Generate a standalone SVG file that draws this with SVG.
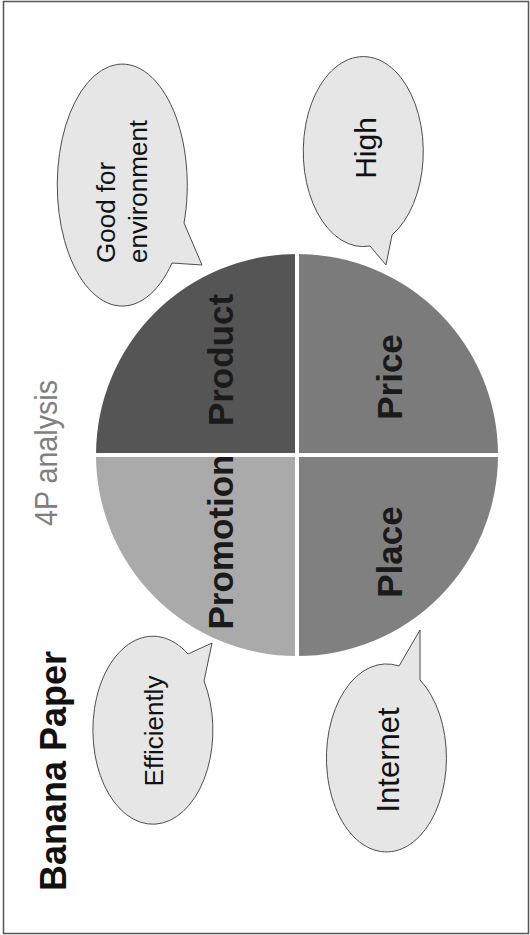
<svg xmlns="http://www.w3.org/2000/svg" width="530" height="935" viewBox="0 0 530 935">
<style>
.frame{fill:#fff;stroke:#555;stroke-width:1.5}
.q-label{font-family:"Liberation Sans",Arial,sans-serif;font-weight:bold;font-size:35px;fill:#1a1a1a;text-anchor:middle}
.bubble{fill:#e6e6e6;stroke:#4d4d4d;stroke-width:1}
.b-text{font-family:"Liberation Sans",Arial,sans-serif;fill:#111}
.gap{stroke:#fff;stroke-width:4}
</style>
<rect class="frame" x="3.5" y="1.5" width="525" height="932"/>
<g id="title">
<text class="b-text" transform="translate(66,771) rotate(-90)" text-anchor="middle" font-size="36" font-weight="bold">Banana Paper</text>
</g>
<g id="subtitle">
<text transform="translate(57,453) rotate(-90)" text-anchor="middle" font-family="Liberation Sans,Arial,sans-serif" font-size="31" fill="#808080" textLength="146" lengthAdjust="spacingAndGlyphs">4P analysis</text>
</g>
<g id="product">
<path d="M297,455 L96,455 A201 201 0 0 1 297,254 Z" fill="#555555"/>
<text class="q-label" transform="translate(233,360) rotate(-90)">Product</text>
</g>
<g id="price">
<path d="M297,455 L297,254 A201 201 0 0 1 498,455 Z" fill="#7b7b7b"/>
<text class="q-label" transform="translate(402,377) rotate(-90)">Price</text>
</g>
<g id="place">
<path d="M297,455 L498,455 A201 201 0 0 1 297,656 Z" fill="#808080"/>
<text class="q-label" transform="translate(402,552) rotate(-90)">Place</text>
</g>
<g id="promotion">
<path d="M297,455 L297,656 A201 201 0 0 1 96,455 Z" fill="#aaaaaa"/>
<text class="q-label" transform="translate(233,542) rotate(-90)">Promotion</text>
</g>
<g id="dividers">
<line class="gap" x1="297" y1="250" x2="297" y2="660"/>
<line class="gap" x1="92" y1="455" x2="502" y2="455"/>
</g>
<g id="bubble-product">
<path class="bubble" d="M172,263 L202,265 L184,223 A65 121 0 1 0 172,263 Z"/>
<text class="b-text" font-size="26" transform="translate(115,263) rotate(-90)">Good for</text>
<text class="b-text" font-size="26" transform="translate(147,263) rotate(-90)">environment</text>
</g>
<g id="bubble-price">
<path class="bubble" d="M370,246 L386,265 L392,235 A60 95 0 1 0 370,246 Z"/>
<text class="b-text" font-size="30" text-anchor="middle" transform="translate(376,148) rotate(-90)">High</text>
</g>
<g id="bubble-promotion">
<path class="bubble" d="M188,654 L212,643 L204,681 A60 94 0 1 1 188,654 Z"/>
<text class="b-text" font-size="26" text-anchor="middle" transform="translate(163,731) rotate(-90)">Efficiently</text>
</g>
<g id="bubble-place">
<path class="bubble" d="M399,666 L420,630 L420,680 A60 94 0 1 1 399,666 Z"/>
<text class="b-text" font-size="31" text-anchor="middle" transform="translate(399,760) rotate(-90)">Internet</text>
</g>
</svg>
